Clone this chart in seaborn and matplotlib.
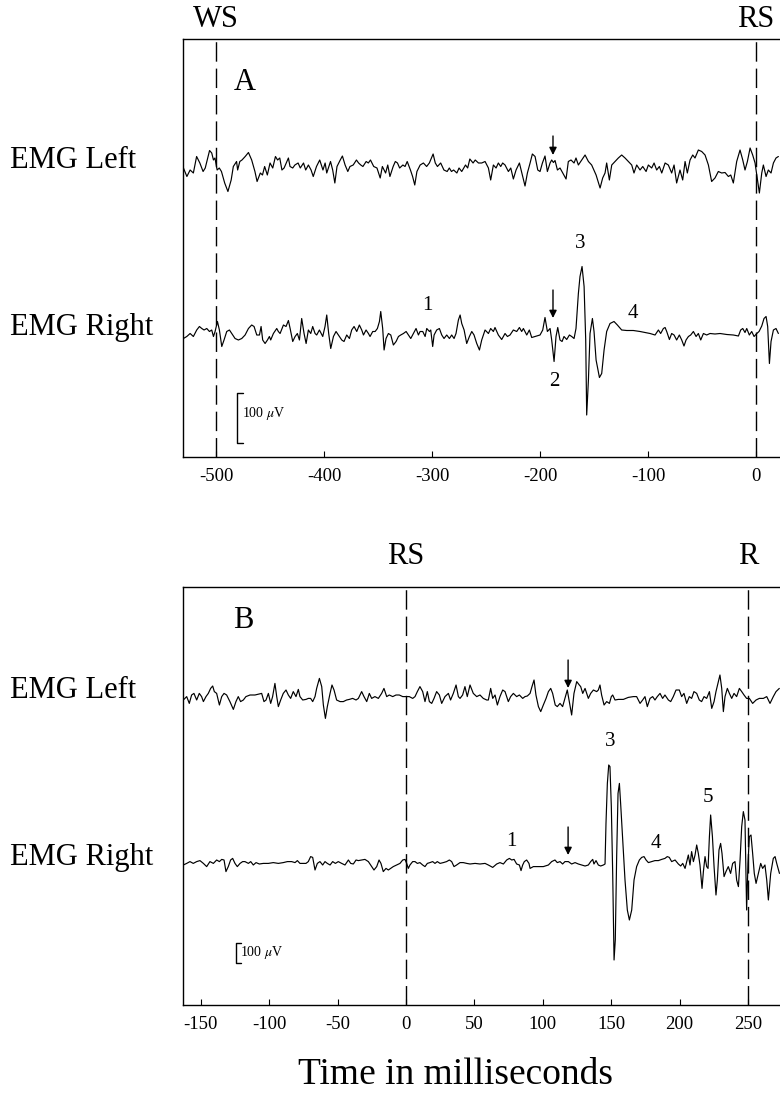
import matplotlib
matplotlib.use('Agg')
from matplotlib import pyplot as plt
import seaborn as sns
import pandas as pd

# ---- panel A (ms, microvolts) ----
a_left_pts = [
    (-530.2, -3), (-527, -20), (-524, -7), (-521, -13), (-518, 20), (-515, 7), (-512, -10), (-510, -3),
    (-506, 32), (-504, 27), (-502.4, 13), (-501, 17), (-499, -7), (-497, -3), (-495, -10), (-492, -33),
    (-489, -50), (-486, -27), (-484, 0), (-481, 10), (-480, -7), (-478, 10), (-476, 13), (-473, 20),
    (-470, 28), (-467, 13), (-464, -10), (-462, -30), (-459, -13), (-457, -17), (-455, 0), (-452.5, -17),
    (-450, 7), (-447.5, -3), (-445, 20), (-443, 13), (-441, 17), (-439, -7), (-437, -3), (-435, 7),
    (-433, 17), (-431.5, 0), (-429, -3), (-427, 3), (-424, 7), (-422, -3), (-419, 7), (-417, -7),
    (-414.5, 3), (-412, -7), (-410, -20), (-407, 0), (-404, 13), (-401, -7), (-399, 7), (-397.5, -13),
    (-394, 10), (-392, -7), (-390, -33), (-388, 0), (-385, 13), (-383, 21), (-380.5, 3), (-378, -10),
    (-376, 0), (-373, 3), (-370, 13), (-368, 7), (-366, 3), (-364, 0), (-361, 10), (-359, 7),
    (-357, 13), (-354, 0), (-351, -3), (-348, -23), (-346, 0), (-343, -13), (-341, 3), (-339, -20),
    (-336, 0), (-334, 10), (-332, 7), (-330, -3), (-327, 3), (-325, 0), (-323, 10), (-320, -7),
    (-318, -20), (-316, -37), (-314, -10), (-311, 3), (-308, 7), (-305, 0), (-302.5, 7), (-299, 25),
    (-297, 7), (-295, 0), (-292, 7), (-289, -7), (-286, -10), (-284, -3), (-282, -10), (-280, -7),
    (-277, -13), (-275, -3), (-272.5, -10), (-269, 3), (-267, -3), (-265, 15), (-262, 7), (-260, 13),
    (-257, 7), (-254, 7), (-250.9, 10), (-247.8, -3), (-245.7, -27), (-243.2, 3), (-240.7, -3),
    (-238.6, 7), (-236.4, 0), (-234.6, 7), (-232.4, 3), (-229.3, -10), (-227.1, -3), (-224.7, -25),
    (-222.2, -7), (-219.1, 7), (-216, -20), (-213.9, -39), (-211.7, -13), (-209.2, 7), (-207.1, 25),
    (-204.6, 20), (-202.1, -7), (-200, -10), (-197.8, 7), (-195.4, 21), (-193.2, -10), (-190.7, 7),
    (-189.2, 13), (-187.6, 8), (-186.1, 12), (-183.9, -7), (-181.5, -3), (-179, -13), (-175.9, -25),
    (-173.8, 10), (-171.3, 13), (-168.5, 7), (-166.7, 17), (-164.5, 3), (-161.4, 13), (-158.3, 23),
    (-155.2, 10), (-152.2, 3), (-148.1, -17), (-144.4, -43), (-142, -23), (-139.8, -13), (-138.3, 7),
    (-135.8, -27), (-133.6, 3), (-130.5, 10), (-127.5, 17), (-124.4, 23), (-121.3, 17), (-118.2, 10),
    (-115.1, 3), (-113, -13), (-110.5, 3), (-107.4, -7), (-104.9, 0), (-101.8, -10), (-99.7, 3),
    (-96.6, -3), (-94.4, 7), (-92, -7), (-89.5, 0), (-87.3, -13), (-84.2, 7), (-81.2, 3), (-78.1, -13),
    (-75.9, 3), (-73.5, -33), (-70.4, -7), (-67.9, -27), (-65.7, 10), (-63.6, -13), (-61.1, 13),
    (-58.6, 23), (-56.5, 17), (-53.4, 33), (-50.3, 30), (-47.2, 23), (-44.1, 3), (-41.1, -30),
    (-38, -23), (-34.9, -10), (-31.8, -13), (-28.7, -12), (-25.6, -20), (-23.4, -17), (-21, -33),
    (-17.9, 10), (-14.8, 33), (-12.3, 13), (-10.2, -7), (-8, 10), (-5.5, 37), (-3.1, 23), (-0.9, 7),
    (0.7, -17), (3.1, -53), (5.3, -13), (6.8, 3), (9.3, -20), (11.4, -7), (13.9, -13), (16.1, 7),
    (18.5, 17), (20.7, 20),
]
a_right_pts = [
    (-530.2, -5), (-527.1, -1), (-524, 5), (-521, -1), (-517.9, 12), (-515.4, 19), (-513.2, 15),
    (-511.1, 12), (-508.6, 15), (-506.1, 9), (-504, 12), (-502.4, -1), (-500.9, 9), (-498.7, 29),
    (-496.9, 12), (-494.7, -21), (-492.6, -8), (-490.1, 9), (-487.6, 12), (-485.5, 5), (-482.4, -5),
    (-479.3, -8), (-476.2, -5), (-473.1, 2), (-470, 15), (-467, 22), (-464.8, 19), (-462.3, 2),
    (-459.8, 2), (-458.3, 19), (-456.8, -8), (-454.6, -15), (-452.4, -8), (-450.6, -1), (-449.4, -8),
    (-446.9, 5), (-443.8, 15), (-442.3, 9), (-440.7, 5), (-437.6, 22), (-435.2, 19), (-433, 31),
    (-431.4, 15), (-429, -11), (-426.8, -1), (-424.7, 5), (-422.8, -8), (-420.7, 35), (-418.5, 5),
    (-416.6, -15), (-414.5, 12), (-412.3, 5), (-410.5, 19), (-408.3, 5), (-406.8, 2), (-404.3, 12),
    (-401.2, -1), (-399.1, 19), (-397.5, 42), (-395.7, 5), (-393.8, -25), (-391.3, -1), (-388.9, 9),
    (-385.8, -1), (-383.6, -8), (-381.5, -11), (-379, 2), (-376.5, -5), (-374.4, 12), (-372.2, 19),
    (-369.7, 9), (-367.3, 22), (-365.1, 12), (-363.5, 2), (-361.1, 12), (-358.9, 5), (-357.4, -1),
    (-354.9, 9), (-352.7, 9), (-350.6, 15), (-348.7, 29), (-347.5, 49), (-345.7, 15), (-344.4, -28),
    (-342.6, -5), (-340.4, 5), (-338.2, 2), (-335.8, -18), (-333.3, -11), (-331.1, -1), (-329, 2),
    (-326.5, 5), (-324, 9), (-321.9, 2), (-319.7, -5), (-317.3, 5), (-314.8, 15), (-312.6, 2),
    (-311.1, 9), (-308.6, 9), (-306.4, -1), (-304.9, 15), (-302.4, 9), (-301.2, 12), (-299.4, -21),
    (-298.1, 2), (-295.7, 12), (-293.2, 15), (-291, 2), (-288.9, -5), (-286.4, 2), (-283.9, -5),
    (-281.8, 2), (-279.6, -5), (-277.8, 5), (-275.6, 32), (-274, 42), (-272.5, 25), (-270.3, 12),
    (-267.9, -15), (-265.4, -1), (-263.2, 9), (-261.1, 2), (-258.6, -15), (-256.1, -28),
    (-254, -8), (-250.9, 12), (-247.8, 5), (-245.7, 15), (-243.2, 9), (-241.7, 17), (-238.6, 2),
    (-235.5, -7), (-232.4, 5), (-230.2, -1), (-227.8, 2), (-224.7, 12), (-221.6, 9), (-219.1, 17),
    (-217, 9), (-215.4, 15), (-212.3, 2), (-209.9, 12), (-207.7, -3), (-204.6, -1), (-200, 2),
    (-197.5, 12), (-195.4, 37), (-193.2, 9), (-190.7, 15), (-189.2, -8), (-187, -51), (-185.2, -1),
    (-183.6, 17), (-181.5, -8), (-179.6, -11), (-177.8, -1), (-175.3, -7), (-172.8, 2), (-170.7, -1),
    (-168.5, -5), (-166.7, 15), (-164.5, 85), (-163, 119), (-161.1, 139), (-159.2, 99), (-157.7, -8),
    (-156.8, -158), (-155.2, -88), (-153.7, 5), (-151.5, 35), (-150, 9), (-148.1, -48), (-145, -83),
    (-142.9, -75), (-140.7, -28), (-138.3, 9), (-135.2, 25), (-131.5, 29), (-128.4, 22), (-124.4, 12),
    (-119.7, 11), (-113.6, 11), (-107.4, 9), (-102.8, 7), (-98.1, 5), (-93.5, 2), (-90.4, 12),
    (-88.3, 5), (-85.8, 15), (-84.2, 17), (-82.7, 9), (-80.2, -7), (-78.1, 5), (-75.9, 2), (-73.5, -8),
    (-71, 2), (-68.8, -8), (-66.7, -20), (-64.8, -8), (-62.6, -1), (-60.5, 2), (-58, 9), (-55.5, -1),
    (-53.4, 5), (-51.2, -8), (-48.7, 5), (-45.7, 2), (-42.6, 5), (-38, 4), (-33.3, 5), (-27.1, 3),
    (-21, 2), (-16.3, 0), (-14.2, 12), (-12.3, 15), (-10.2, 7), (-8.6, 15), (-6.2, 2), (-4, 9),
    (-1.8, -1), (0.7, 5), (2.8, 9), (5.3, 20), (7.4, 35), (9.3, 39), (10.8, 19), (12.4, -55),
    (13.9, -11), (16.1, 12), (18.5, 15), (20.7, 5),
]

# ---- panel B (ms, microvolts) ----
b_left_pts = [
    (-162.8, -15), (-160.3, 2), (-158.4, -32), (-156.7, 10), (-155, 18), (-153, -15), (-151.1, 18),
    (-149.4, 2), (-148.1, -23), (-146.2, 2), (-144.5, 18), (-142.8, 43), (-141.3, 55), (-140.1, 27),
    (-138.4, 18), (-136.4, -40), (-134.7, 2), (-133, 18), (-131.1, 10), (-128.7, -23), (-126.2, -62),
    (-124.3, -23), (-122.6, 2), (-120.9, -23), (-118.9, -15), (-117, 2), (-114, 10), (-110.4, 10),
    (-107.2, 15), (-105.5, 18), (-103.8, -23), (-102.3, -15), (-100.6, 18), (-98.9, -32), (-97.5, 2),
    (-95.8, 68), (-94.5, 2), (-93.3, -48), (-91.6, -15), (-89.7, 18), (-87.7, 35), (-86, 10),
    (-84.3, -7), (-82.4, 27), (-80.4, 2), (-78.7, 38), (-77.5, 2), (-75.5, -15), (-73.1, -12),
    (-71.4, -7), (-69.7, -7), (-68.2, -23), (-66.5, 2), (-65.3, 43), (-63.3, 93), (-61.6, 52),
    (-60.4, -40), (-58.9, -107), (-57.5, -48), (-55.5, 18), (-54.1, 60), (-52.6, 35), (-50.7, -15),
    (-48.2, -23), (-45.8, -23), (-43.4, -15), (-41.4, -12), (-39, -7), (-36.5, -15), (-34.8, -7),
    (-32.4, 27), (-30.7, 2), (-28.7, -23), (-26.8, 18), (-25.1, -7), (-22.7, 2), (-20.2, -7),
    (-17.8, 18), (-16.1, 43), (-14.1, 2), (-12.2, 10), (-9.7, 2), (-7.3, 10), (-4.9, 10), (-2.4, 2),
    (0, 2), (2.4, 2), (4.9, -7), (6.6, 2), (8.3, 27), (10.2, 52), (12.2, 27), (13.9, -23), (15.6, 27),
    (17.1, -23), (18.8, -32), (20.5, -7), (22.4, 27), (24.4, 10), (26.1, -32), (28.5, 2), (31, 18),
    (32.6, -15), (34.6, 18), (36.6, 60), (38.3, 2), (39.5, -7), (41.4, 10), (43.1, 52), (44.8, 2),
    (46.8, 60), (49.2, 18), (51.7, 2), (54.1, 10), (56.5, -7), (59, -15), (60.2, -15), (61.9, 43),
    (63.4, -7), (65.1, 10), (66.8, -40), (68.7, 2), (70.7, 35), (72.4, 27), (74.8, -23), (76.5, 2),
    (78.5, 18), (80.9, 2), (82.9, 10), (85.3, -7), (87, 2), (88.7, 5), (90.7, 18), (92.1, 52),
    (93.6, 85), (95, 10), (96.8, -48), (98.5, -73), (100.4, -40), (102.4, -7), (104.1, 27),
    (105.8, 43), (107.2, 18), (109.1, -40), (110.6, -48), (112.6, -32), (114.5, -48), (116.2, -7),
    (117.9, 35), (119.4, -23), (121.1, -90), (122.8, 18), (124.8, 77), (126.7, 60), (127.7, 52),
    (129.2, 18), (130.9, 43), (133.3, -7), (135, 18), (137, 35), (139.4, 27), (140.6, 35), (141.8, 60),
    (143, 10), (144.8, -40), (146.7, -23), (148.7, -32), (150.1, 2), (151.1, 10), (152.8, -15),
    (155.2, -12), (158.9, -12), (162.5, -2), (166.2, 2), (168.6, 2), (171.1, -32), (173, -15),
    (174.7, 2), (176.4, -48), (178.4, -7), (180.3, 2), (182, -15), (183.7, 2), (185.7, 18),
    (187.6, -7), (189.3, 10), (191.8, -15), (193.5, -23), (195.4, 2), (197.4, 35), (199.8, 35),
    (201.5, 2), (203.2, 18), (205.2, -32), (207.1, 2), (208.8, -7), (210.5, 27), (212.5, 18),
    (214.4, -15), (216.1, -23), (217.9, 2), (219.8, -7), (221.8, 27), (223.5, -57), (225.2, -23),
    (226.6, 27), (228.3, 77), (229.5, 110), (230.8, 43), (232, -73), (233.2, 2), (234.9, 43),
    (236.4, 18), (238.1, -7), (239.8, 18), (241.7, 2), (243.7, 43), (245.4, 27), (247.1, 10),
    (249, -7), (251, -7), (253.4, -32), (255.9, -15), (258.3, -7), (261.2, -7), (263.7, 2),
    (266.1, -32), (268.5, 2), (270.5, 27), (272.9, 43),
]
b_right_pts = [
    (-162.8, -5), (-160.3, 3), (-157.9, 12), (-155.5, 3), (-153, 12), (-150.6, 17), (-148.1, 3),
    (-145.7, -13), (-143.3, 12), (-140.8, 3), (-138.4, 20), (-136.4, 12), (-134.7, 23), (-133, 20),
    (-131.6, -38), (-129.9, -13), (-128.2, 20), (-126.7, 28), (-125, 3), (-123.3, -13), (-121.3, 3),
    (-119.4, 12), (-117.7, 12), (-115.2, 3), (-113.5, 12), (-111.6, -5), (-109.6, 7), (-107.2, 0),
    (-104.3, 3), (-100.6, 3), (-97, 7), (-93.3, 3), (-89.7, 7), (-86.7, 12), (-83.6, 12), (-81.1, 7),
    (-79.4, 17), (-77.5, 3), (-75.5, 3), (-73.1, 3), (-71.4, 12), (-69.7, 37), (-68.2, 33),
    (-66.5, -30), (-64.8, 3), (-62.9, 12), (-60.9, -5), (-59.2, 12), (-57.5, 3), (-55.5, -5),
    (-53.6, 12), (-51.6, 3), (-49.5, 12), (-47, 3), (-44.6, -5), (-42.1, 20), (-40.4, 3), (-38.5, 0),
    (-36.5, 20), (-34.8, 17), (-32.4, 20), (-30, 23), (-27.5, 12), (-25.1, -13), (-23.4, -30),
    (-21.4, -13), (-19.7, 20), (-18.3, 3), (-16.6, -38), (-14.6, -22), (-12.9, -30), (-11.2, -22),
    (-9.3, -13), (-6.8, -5), (-4.4, 3), (-2.4, 20), (-0.7, 23), (0.5, 3), (1.7, -22), (2.9, -5),
    (4.9, 12), (6.6, 12), (8.3, 3), (10.2, 7), (12.2, -5), (13.9, -13), (15.6, 3), (17.5, 7),
    (19.5, 12), (21.2, 3), (22.9, 12), (24.9, 3), (27.3, 7), (29.7, 12), (31.7, 20), (33.4, 12),
    (35.1, -13), (37, -5), (39.5, 7), (41.9, 7), (44.4, 3),
    (46.8, 0), (50.5, 3), (54.1, 0), (57.8, 3), (60.2, -5), (63.4, -17), (66.3, 0), (68.7, 7),
    (71.2, 0), (73.6, 20), (75.6, 28), (77.3, 20), (79, 23), (80.9, 0), (82.9, -5), (84.1, -33),
    (85.3, -5), (86.5, 12), (88.2, 20), (89.9, 3), (90.7, -22), (93.1, -13), (96.8, -13),
    (100.4, -13), (104.1, -5), (106.5, 12), (108.9, 20), (110.6, 7), (112.6, 12), (114.5, 0),
    (116.2, 12), (118.7, 12), (121.1, 0), (123.6, 7), (126, 0), (128.4, -5), (130.9, -10),
    (133.3, -5), (135, 12), (136.5, 23), (137.4, 0), (138.9, 17), (140.6, -5), (142.3, -10),
    (144.3, -5), (145.5, 0), (146.2, 203), (147.2, 403), (148.2, 495), (149.1, 487), (150.1, 287),
    (151.1, -47), (152.1, -480), (153, -380), (154, 37), (155, 353), (156, 403), (156.9, 303),
    (158.4, 120), (160.1, -80), (161.8, -230), (163.3, -280), (165, -230), (166.7, -80),
    (168.6, -13), (170.6, 20), (172.3, 33), (174, 37), (175.5, 20), (177.2, 7), (179.6, 12),
    (182, 17), (184.5, 17), (186.9, 23), (189.3, 28), (191, 37), (192.5, 33), (194.2, 12),
    (196.7, 20), (199.1, 0), (200.8, -10), (202.3, 3), (204, -22), (205.2, 12), (206.4, 45),
    (207.6, -5), (208.8, 62), (210.1, 12), (211.3, 45), (212.5, 95), (213.7, 53), (214.9, -5),
    (216.4, -122), (217.4, -38), (218.6, 37), (219.8, -13), (220.8, -22), (221.8, 137), (222.7, 245),
    (224, 137), (225.2, -13), (226.6, -155), (227.6, -80), (228.8, 70), (230, 103), (231, 53),
    (232.5, -63), (233.9, -38), (235.6, -13), (237.3, -47), (238.8, 3), (240.5, 12), (241.7, -80),
    (243, -113), (244.2, 20), (245.4, 187), (246.6, 262), (247.8, 220), (249, -230), (250, 3),
    (251, 137), (252.2, 145), (253.4, 53), (254.6, -47), (255.9, -97), (257.6, -47), (259.3, 3),
    (260.7, -22), (262.4, -5), (263.7, -80), (264.9, -180), (266.6, -47), (268.5, 28), (269.8, 37),
    (271, 3), (273, -47),
]

a_ticks = [-500, -400, -300, -200, -100, 0]
b_ticks = [-150, -100, -50, 0, 50, 100, 150, 200, 250]
a_events = [(-500, 'WS'), (0, 'RS')]
b_events = [(0, 'RS'), (250, 'R')]
# (ms, microvolt level in panel, text)
a_numbers = [(-304, 302, '1'), (-187, 150, '2'), (-163, 428, '3'), (-114, 288, '4')]
b_numbers = [(77, 815, '1'), (149, 1315, '3'), (183, 810, '4'), (221, 1040, '5')]
a_arrows = [(-188, 642, 604), (-188, 334, 278)]
b_arrows = [(118.5, 1725, 1585), (118.5, 890, 750)]

sns.set_style('white')
plt.rcParams['font.family'] = ['Liberation Serif', 'DejaVu Serif']
plt.rcParams['mathtext.fontset'] = 'stix'
plt.rcParams['axes.unicode_minus'] = False
plt.rcParams['text.color'] = 'black'
plt.rcParams['xtick.color'] = 'black'
plt.rcParams['xtick.labelcolor'] = 'black'


def trace_frame(points, offset):
    df = pd.DataFrame(points, columns=['ms', 'uv'])
    df['level'] = df['uv'] + offset
    return df


def draw_panel(ax, traces, xlim, ylim, ticks, events, ev_y, letter, letter_xy,
               numbers, arrows, bar, y_labels):
    for pts, offset in traces:
        sns.lineplot(data=trace_frame(pts, offset), x='ms', y='level', ax=ax,
                     color='black', linewidth=0.85, estimator=None, sort=False)
    for x, name in events:
        ax.axvline(x, color='black', linewidth=1.0, dashes=(14, 5))
        ax.annotate(name, xy=(x, ev_y), xycoords=('data', 'axes fraction'),
                    ha='center', va='center', fontsize=22, color='black',
                    annotation_clip=False)
    ax.text(letter_xy[0], letter_xy[1], letter, transform=ax.transAxes,
            ha='center', va='center', fontsize=22, color='black')
    for x, y, s in numbers:
        ax.text(x, y, s, ha='center', va='center', fontsize=15, color='black')
    for x, y0, y1 in arrows:
        ax.annotate('', xy=(x, y1), xytext=(x, y0),
                    arrowprops=dict(arrowstyle='-|>', color='black', lw=1.0,
                                    mutation_scale=11, shrinkA=0, shrinkB=0))
    bx, by0, by1, bw, tx, ty = bar
    ax.plot([bx + bw, bx, bx, bx + bw], [by0, by0, by1, by1], color='black', lw=1.0)
    ax.text(tx, ty, r'100 $\mu$V', ha='left', va='center', fontsize=10, color='black')

    ax.set_xlim(*xlim)
    ax.set_ylim(*ylim)
    ax.set_xticks(ticks)
    ax.set_xticklabels([str(t) for t in ticks])
    ax.set_yticks([])
    ax.set_xlabel('')
    ax.set_ylabel('')
    ax.tick_params(axis='x', direction='in', length=4, width=0.8, pad=8,
                   labelsize=13.5, bottom=True, top=False, colors='black')
    for side in ['left', 'top', 'bottom']:
        ax.spines[side].set_color('black')
        ax.spines[side].set_linewidth(1.0)
    ax.spines['right'].set_visible(False)
    for y, s in y_labels:
        ax.figure.text(10 / 780, y, s, ha='left', va='center', fontsize=22, color='black')


fig = plt.figure(figsize=(7.8, 11.03), dpi=100)
ax_a = fig.add_axes([183 / 780, 646 / 1103, 597 / 780, 418 / 1103])
ax_b = fig.add_axes([183 / 780, 98 / 1103, 597 / 780, 418 / 1103])

draw_panel(ax_a, [(a_left_pts, 581), (a_right_pts, 242)], (-530.6, 22.2), (0, 836),
           a_ticks, a_events, 1.046, 'A', (0.104, 0.895), a_numbers, a_arrows,
           (-480.5, 28, 128, 5, -476, 88),
           [(1 - 160 / 1103, 'EMG Left'), (1 - 327 / 1103, 'EMG Right')])
draw_panel(ax_b, [(b_left_pts, 1540), (b_right_pts, 705)], (-163.0, 273.4), (0, 2090),
           b_ticks, b_events, 1.072, 'B', (0.101, 0.919), b_numbers, b_arrows,
           (-124.3, 212, 312, 3.5, -121, 262),
           [(1 - 690 / 1103, 'EMG Left'), (1 - 857 / 1103, 'EMG Right')])

fig.text(455 / 780, 1 - 1075 / 1103, 'Time in milliseconds', ha='center', va='center',
         fontsize=27, color='black')

fig.savefig('out.png', dpi=100)
